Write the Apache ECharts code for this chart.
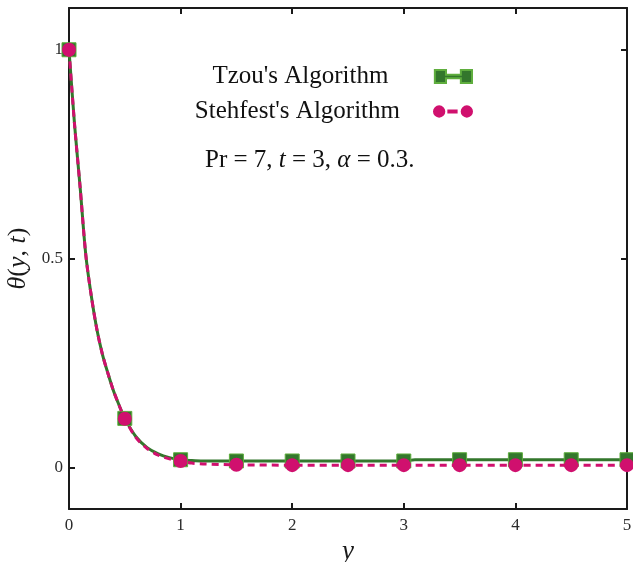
<!DOCTYPE html>
<html>
<head>
<meta charset="utf-8">
<script src="https://cdn.jsdelivr.net/npm/echarts@6/dist/echarts.min.js"></script>
<style>
  html, body { margin: 0; padding: 0; background: #fff; }
  #main { width: 633px; height: 562px; }
</style>
</head>
<body>
<div id="main"></div>
<script>
// y positions
var yPos = [0, 0.05, 0.1, 0.15, 0.2, 0.25, 0.3, 0.35, 0.4, 0.45, 0.5, 0.6, 0.7, 0.8, 0.9, 1.0, 1.1, 1.2, 1.5, 2.0, 2.5, 3.0, 3.1, 3.5, 4.0, 4.5, 5.0];
var tzou = [1, 0.82, 0.67, 0.51, 0.41, 0.33, 0.27, 0.224, 0.182, 0.148, 0.117, 0.073, 0.047, 0.032, 0.023, 0.018, 0.016, 0.015, 0.015, 0.015, 0.015, 0.015, 0.018, 0.018, 0.018, 0.018, 0.018];
var stehfest = [1, 0.82, 0.67, 0.51, 0.41, 0.33, 0.27, 0.224, 0.182, 0.148, 0.116, 0.071, 0.045, 0.029, 0.02, 0.015, 0.01, 0.008, 0.006, 0.005, 0.005, 0.005, 0.005, 0.005, 0.005, 0.005, 0.005];
var xTicks = [0, 1, 2, 3, 4, 5];
var yTicks = [0, 0.5, 1];
var names = ["Tzou's Algorithm", "Stehfest's Algorithm"];

var green = '#33772c';
var pink = '#d0106e';
var serif = '"Liberation Serif", "DejaVu Serif", serif';

function pairs(vals) {
  var out = [];
  for (var i = 0; i < yPos.length; i++) out.push([yPos[i], vals[i]]);
  return out;
}
// markers only every 0.5
function markSize(size) {
  return function (v) {
    var r = Math.round(v[0] * 2) / 2;
    return Math.abs(r - v[0]) < 1e-6 ? size : 0;
  };
}

var chart = echarts.init(document.getElementById('main'));

var axisLine = { show: true, onZero: false, lineStyle: { color: '#1a1a1a', width: 2 } };
var tick = { show: true, inside: true, length: 6, lineStyle: { color: '#1a1a1a', width: 2 } };
var yTick = { show: true, inside: true, length: 6, lineStyle: { color: '#1a1a1a', width: 2 }, customValues: yTicks };

var option = {
  backgroundColor: '#ffffff',
  animation: false,
  grid: { left: 69, top: 8, right: 6, bottom: 53, containLabel: false, outerBoundsMode: 'none' },
  legend: [{
    data: [{ name: names[0], icon: 'path://M0,0 H12 V5 H28 V0 H40 V14 H28 V9 H12 V14 H0 Z' }],
    orient: 'vertical', align: 'right', right: 155, top: 59,
    itemWidth: 40, itemHeight: 13,
    textStyle: { fontFamily: serif, fontSize: 25, color: '#111', padding: [0, 40, 0, 0] }
  }, {
    data: [{ name: names[1], icon: 'path://M0,7 A6,6 0 1,1 12,7 A6,6 0 1,1 0,7 Z M14,5 H24 V9 H14 Z M27,7 A6,6 0 1,1 39,7 A6,6 0 1,1 27,7 Z' }],
    orient: 'vertical', align: 'right', right: 155, top: 94,
    itemWidth: 40, itemHeight: 13,
    textStyle: { fontFamily: serif, fontSize: 25, color: '#111', padding: [0, 28, 0, 0] }
  }],
  graphic: [{
    type: 'text', left: 205, top: 148,
    style: {
      text: 'Pr = 7, {i|t} = 3, {i|α} = 0.3.',
      fontFamily: serif, fontSize: 25, fill: '#111',
      rich: { i: { fontFamily: serif, fontSize: 25, fontStyle: 'italic', fill: '#111' } }
    }
  }],
  xAxis: [{
    type: 'value', min: 0, max: 5, interval: 1,
    axisLine: axisLine, axisTick: tick, splitLine: { show: false },
    axisLabel: { fontFamily: serif, fontSize: 17, color: '#2b2b2b', margin: 8, customValues: xTicks },
    name: 'y', nameLocation: 'middle', nameGap: 24,
    nameTextStyle: { fontFamily: serif, fontSize: 27, fontStyle: 'italic', color: '#1a1a1a' }
  }, {
    type: 'value', position: 'top', min: 0, max: 5, interval: 1,
    axisLine: axisLine, axisTick: tick, axisLabel: { show: false }, splitLine: { show: false }
  }],
  yAxis: [{
    type: 'value', min: -0.1, max: 1.1,
    axisLine: axisLine, splitLine: { show: false }, axisTick: yTick,
    axisLabel: { fontFamily: serif, fontSize: 17, color: '#2b2b2b', margin: 6, customValues: yTicks },
    name: '{i|θ}({i|y}, {i|t})', nameLocation: 'middle', nameGap: 37, nameRotate: 90,
    nameTextStyle: { fontFamily: serif, fontSize: 26, color: '#1a1a1a',
      rich: { i: { fontFamily: serif, fontSize: 26, fontStyle: 'italic', color: '#1a1a1a' } } }
  }, {
    type: 'value', position: 'right', min: -0.1, max: 1.1,
    axisLine: axisLine, splitLine: { show: false }, axisTick: yTick,
    axisLabel: { show: false }
  }],
  series: [{
    name: names[0], type: 'line', xAxisIndex: 0, yAxisIndex: 0,
    data: pairs(tzou), smooth: 0.3,
    symbol: 'rect', symbolSize: markSize(14), showAllSymbol: true,
    itemStyle: { color: green, borderColor: '#5fae3e', borderWidth: 1 },
    lineStyle: { color: green, width: 3 },
    z: 2
  }, {
    name: names[1], type: 'line', xAxisIndex: 0, yAxisIndex: 0,
    data: pairs(stehfest), smooth: 0.3,
    symbol: 'circle', symbolSize: markSize(14), showAllSymbol: true,
    itemStyle: { color: pink },
    lineStyle: { color: pink, width: 3, type: [7, 5] },
    z: 3
  }]
};
chart.setOption(option);
</script>
</body>
</html>
